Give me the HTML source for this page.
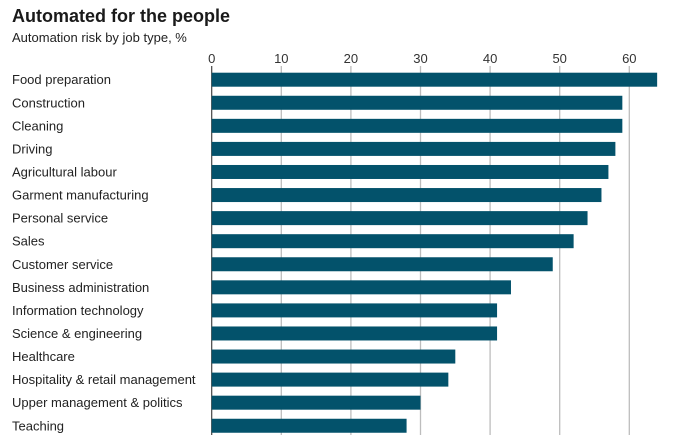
<!DOCTYPE html>
<html><head><meta charset="utf-8"><style>
html,body{margin:0;padding:0;background:#fff;}
svg{display:block;font-family:"Liberation Sans",sans-serif;}
</style></head><body>
<svg id="chart" width="687" height="443">
<text x="12" y="22" font-size="18" font-weight="bold" fill="#1a1a1a">Automated for the people</text>
<text x="12" y="42" font-size="13" fill="#222">Automation risk by job type, %</text>
<g id="grid"></g><g id="bars"></g><g id="labels"></g>
</svg>
<script>
const categories=["Food preparation","Construction","Cleaning","Driving","Agricultural labour","Garment manufacturing","Personal service","Sales","Customer service","Business administration","Information technology","Science & engineering","Healthcare","Hospitality & retail management","Upper management & politics","Teaching"];
const values=[64,59,59,58,57,56,54,52,49,43,41,41,35,34,30,28];
const ticks=[0,10,20,30,40,50,60];
const NS="http://www.w3.org/2000/svg";
const x0=211.7, pxPer=6.96, y0=72.7, step=23.07, bh=14;
const xs=v=>x0+v*pxPer;
const ys=i=>y0+i*step;
const grid=document.getElementById('grid'),bars=document.getElementById('bars'),labels=document.getElementById('labels');
function mk(t,a){const e=document.createElementNS(NS,t);for(const k in a)e.setAttribute(k,a[k]);return e;}
ticks.forEach(t=>{
  const l=mk('line',{x1:xs(t),x2:xs(t),y1:66,y2:435,stroke:t===0?'#444':'#bdbdbd','stroke-width':t===0?1.2:1.3});
  
  
  grid.appendChild(l);
  const tx=mk('text',{x:xs(t),y:63,'font-size':13,'text-anchor':'middle',fill:'#333'});
  tx.textContent=t;
  
  
  grid.appendChild(tx);
});
categories.forEach((c,i)=>{
  const r=mk('rect',{x:xs(0),y:ys(i),width:xs(values[i])-xs(0),height:bh,fill:'#03526b'});
  
  
  bars.appendChild(r);
  const t=mk('text',{x:12,y:ys(i)+bh/2+4.5,'font-size':13,fill:'#222'});
  t.textContent=c;
  
  
  labels.appendChild(t);
});
</script>
</body></html>
